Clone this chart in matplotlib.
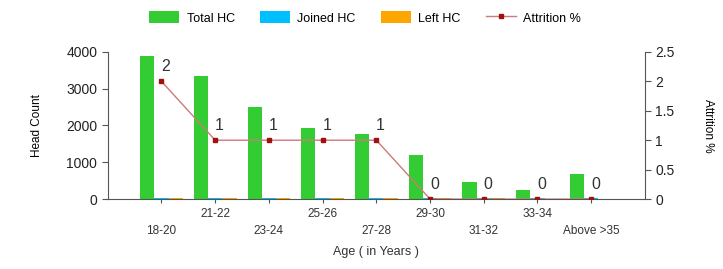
import matplotlib.pyplot as plt
import numpy as np

ages = ['18-20', '21-22', '23-24', '25-26', '27-28', '29-30', '31-32', '33-34', 'Above >35']
total_hc = [3880, 3350, 2500, 1940, 1760, 1200, 455, 245, 670]
joined_hc = [40, 40, 40, 40, 40, 40, 30, 20, 40]
left_hc = [40, 40, 40, 40, 40, 40, 40, 0, 0]
attrition = [2, 1, 1, 1, 1, 0, 0, 0, 0]

plt.rcParams['font.family'] = ['Liberation Sans', 'DejaVu Sans']

fig = plt.figure(figsize=(7.23, 2.69), dpi=100)
ax = fig.add_axes([0.149, 0.26, 0.743, 0.547])

x = np.arange(1, len(ages) + 1)
w = 0.265
b1 = ax.bar(x - w, total_hc, w, color='#33cc33', label='Total HC')
b2 = ax.bar(x, joined_hc, w, color='#00bfff', label='Joined HC')
b3 = ax.bar(x + w, left_hc, w, color='#ffa500', label='Left HC')

ax.set_xlim(0, 10)
ax.set_ylim(0, 4000)
ax.set_yticks([0, 1000, 2000, 3000, 4000])
ax.set_xticks(x)
labels = [a if i % 2 == 1 else '\n' + a for i, a in enumerate(ages)]
ax.set_xticklabels(labels, fontsize=8.5, color='#333333', linespacing=1.6)
ax.tick_params(axis='x', length=3, color='#555555')
ax.tick_params(axis='y', labelsize=10, length=4, color='#555555', labelcolor='#222222')
ax.spines['top'].set_visible(False)
ax.spines['right'].set_visible(False)
ax.spines['left'].set_color('#555555')
ax.spines['bottom'].set_color('#555555')
ax.set_ylabel('Head Count', fontsize=8.5, labelpad=17)
ax.set_xlabel('Age ( in Years )', fontsize=9, labelpad=6, color='#333333')

ax2 = ax.twinx()
line, = ax2.plot(x, attrition, color='#cc7a7a', lw=1, marker='s', markersize=3.5,
                 markerfacecolor='#a01010', markeredgecolor='#a01010', label='Attrition %')
ax2.set_ylim(0, 2.5)
ax2.set_yticks([0, 0.5, 1, 1.5, 2, 2.5])
ax2.set_yticklabels(['0', '0.5', '1', '1.5', '2', '2.5'])
ax2.tick_params(axis='y', labelsize=10, length=4, color='#555555', labelcolor='#222222')
for s in ['top', 'left', 'bottom']:
    ax2.spines[s].set_visible(False)
ax2.spines['right'].set_color('#555555')
ax2.set_ylabel('Attrition %', fontsize=8.5, rotation=270, labelpad=28)
for xi, v in zip(x, attrition):
    ax2.text(xi + 0.08, v + 0.12, str(v), fontsize=11.5, ha='center', va='bottom', color='#333333')
ax2.set_zorder(ax.get_zorder() + 1)

fig.legend([b1, b2, b3, line], ['Total HC', 'Joined HC', 'Left HC', 'Attrition %'],
           loc='upper center', bbox_to_anchor=(0.505, 1.0), ncol=4, frameon=False,
           fontsize=9, handlelength=2.4, handleheight=1.1, handletextpad=0.6,
           columnspacing=2.0)

fig.savefig('out.png', dpi=100)
